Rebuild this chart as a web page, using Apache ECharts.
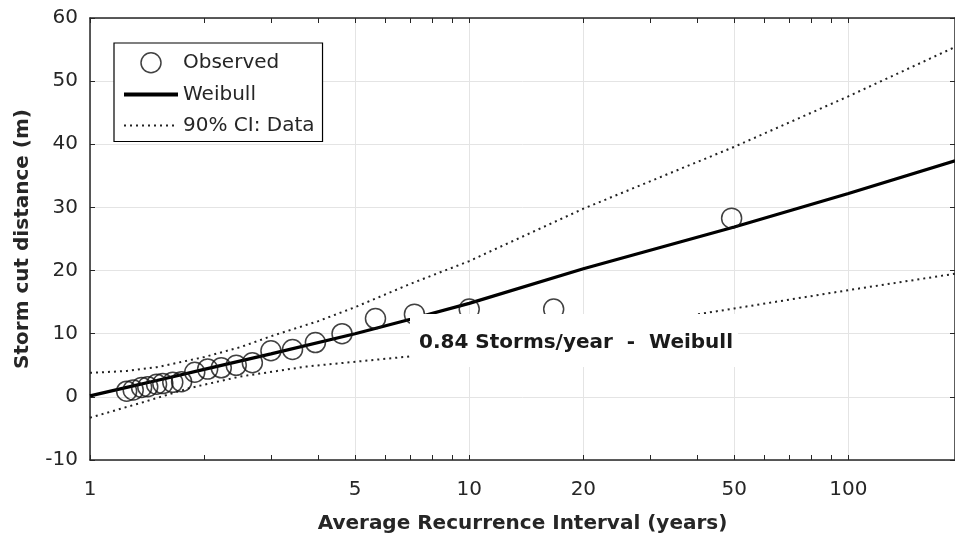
<!DOCTYPE html>
<html>
<head>
<meta charset="utf-8">
<script src="https://cdn.jsdelivr.net/npm/echarts@6/dist/echarts.min.js"></script>
<style>
html,body{margin:0;padding:0;background:#fff;}
#chart{width:955px;height:539px;}
</style>
</head>
<body>
<div id="chart"></div>
<script>
// ---- data ----
const observedT   = [1.249, 1.30, 1.368, 1.42, 1.498, 1.556, 1.653, 1.744, 1.889, 2.043, 2.219, 2.43, 2.68, 3.0, 3.42, 3.93, 4.62, 5.66, 7.17, 10.0, 16.7, 49.2];
const observedCut = [0.9, 1.1, 1.5, 1.6, 2.0, 2.1, 2.3, 2.4, 3.9, 4.4, 4.6, 5.0, 5.4, 7.3, 7.5, 8.6, 10.0, 12.4, 13.1, 13.9, 13.9, 28.3];

const weibullT   = [1, 1.25, 1.5, 2, 3, 5, 7, 10, 20, 50, 100, 191];
const weibullCut = [0.15, 1.5, 2.6, 4.35, 6.8, 10.0, 12.3, 14.8, 20.3, 26.9, 32.2, 37.4];

const ciUpperT   = [1, 1.25, 1.5, 2, 2.5, 3, 4, 5, 7, 10, 20, 50, 100, 191];
const ciUpperCut = [3.8, 4.1, 4.7, 6.3, 7.9, 9.6, 12.0, 14.2, 17.9, 21.5, 29.8, 39.6, 47.6, 55.4];

const ciLowerT   = [1, 1.354, 1.833, 2.48, 3.72, 6.83, 10, 20, 37.5, 50, 100, 191];
const ciLowerCut = [-3.3, -1.0, 1.4, 3.2, 4.8, 6.35, 7.6, 10.2, 12.8, 14.0, 16.9, 19.5];

const xTickLabels = [1, 5, 10, 20, 50, 100];
const xTickMarks  = [1, 2, 3, 4, 5, 6, 7, 8, 9, 10, 20, 30, 40, 50, 60, 70, 80, 90, 100];
const xGridValues = [1, 5, 10, 20, 50, 100];
const X_MIN = 1, X_MAX = 191;
const Y_MIN = -10, Y_MAX = 60, Y_STEP = 10;

const annotationText = '0.84 Storms/year  -  Weibull';
const xName = 'Average Recurrence Interval (years)';
const yName = 'Storm cut distance (m)';

// ---- chart ----
const pairs = (xs, ys) => xs.map((x, i) => [x, ys[i]]);
const FONT = 'DejaVu Sans';
const INK = '#262626';

const chart = echarts.init(document.getElementById('chart'), null, {renderer: 'canvas'});

const xBase = {type: 'log', logBase: 10, min: X_MIN, max: X_MAX, gridIndex: 0};
const yBase = {type: 'value', min: Y_MIN, max: Y_MAX, interval: Y_STEP, gridIndex: 0};

const option = {
  backgroundColor: '#fff',
  animation: false,
  title: [{
    text: annotationText,
    left: 410, top: 314,
    backgroundColor: '#fff',
    padding: [17, 5, 12, 9],
    textStyle: {fontFamily: FONT, fontSize: 20, fontWeight: 'bold', color: '#1a1a1a', lineHeight: 24}
  }],
  grid: {left: 90, right: -2, top: 18, bottom: 77, containLabel: false},
  legend: {
    orient: 'vertical',
    left: 114, top: 43,
    padding: [9, 8, 6, 8],
    itemGap: 11,
    itemWidth: 54, itemHeight: 20,
    backgroundColor: '#fff',
    borderColor: '#000', borderWidth: 1.2,
    textStyle: {fontFamily: FONT, fontSize: 20, color: INK},
    data: [
      {name: 'Observed', icon: 'circle', itemStyle: {color: 'rgba(0,0,0,0)', borderColor: '#111', borderWidth: 1.5}},
      {name: 'Weibull', itemStyle: {opacity: 0}, lineStyle: {width: 4}},
      {name: '90% CI: Data', itemStyle: {opacity: 0}}
    ]
  },
  xAxis: [
    Object.assign({}, xBase, {
      position: 'bottom',
      axisLine: {show: true, onZero: false, lineStyle: {color: INK, width: 1.5}},
      axisTick: {show: true, inside: true, length: 5, customValues: xTickMarks, lineStyle: {color: INK}},
      axisLabel: {customValues: xTickLabels, margin: 20, color: INK, fontFamily: FONT, fontSize: 20,
                  formatter: v => String(Math.round(v))},
      splitLine: {show: false},
      name: xName, nameLocation: 'middle', nameGap: 54,
      nameTextStyle: {fontFamily: FONT, fontSize: 20, fontWeight: 'bold', color: INK}
    }),
    Object.assign({}, xBase, {
      position: 'top',
      axisLine: {show: true, onZero: false, lineStyle: {color: INK, width: 1.5}},
      axisTick: {show: true, inside: true, length: 5, customValues: xTickMarks, lineStyle: {color: INK}},
      axisLabel: {show: false},
      splitLine: {show: false}
    }),
    Object.assign({}, xBase, {
      position: 'bottom',
      axisLine: {show: false, onZero: false},
      axisTick: {show: false, customValues: xGridValues},
      axisLabel: {show: false, customValues: xGridValues},
      splitLine: {show: true, lineStyle: {color: '#e4e4e4', width: 1}}
    })
  ],
  yAxis: [
    Object.assign({}, yBase, {
      position: 'left',
      axisLine: {show: true, onZero: false, lineStyle: {color: INK, width: 1.5}},
      axisTick: {show: true, inside: true, length: 5, lineStyle: {color: INK}},
      axisLabel: {margin: 12, color: INK, fontFamily: FONT, fontSize: 20},
      splitLine: {show: true, lineStyle: {color: '#e4e4e4', width: 1}},
      name: yName, nameLocation: 'middle', nameGap: 57,
      nameTextStyle: {fontFamily: FONT, fontSize: 20, fontWeight: 'bold', color: INK}
    }),
    Object.assign({}, yBase, {
      position: 'right',
      axisLine: {show: true, onZero: false, lineStyle: {color: INK, width: 1.5}},
      axisTick: {show: true, inside: true, length: 5, lineStyle: {color: INK}},
      axisLabel: {show: false},
      splitLine: {show: false}
    })
  ],
  series: [
    {
      name: '90% CI: Data', type: 'line', xAxisIndex: 0, yAxisIndex: 0,
      data: pairs(ciUpperT, ciUpperCut), symbol: 'none', silent: true,
      itemStyle: {color: '#222', opacity: 0},
      lineStyle: {color: '#222', width: 2, type: [2, 4]}, z: 2
    },
    {
      name: '90% CI: Data', type: 'line', xAxisIndex: 0, yAxisIndex: 0,
      data: pairs(ciLowerT, ciLowerCut), symbol: 'none', silent: true,
      itemStyle: {color: '#222', opacity: 0},
      lineStyle: {color: '#222', width: 2, type: [2, 4]}, z: 2
    },
    {
      name: 'Weibull', type: 'line', xAxisIndex: 0, yAxisIndex: 0,
      data: pairs(weibullT, weibullCut), symbol: 'none', silent: true,
      itemStyle: {color: '#000', opacity: 0},
      lineStyle: {color: '#000', width: 3.2}, z: 3
    },
    {
      name: 'Observed', type: 'scatter', xAxisIndex: 0, yAxisIndex: 0,
      data: pairs(observedT, observedCut), symbol: 'circle', symbolSize: 20,
      itemStyle: {color: 'rgba(0,0,0,0)', borderColor: '#111', borderWidth: 1.5}, z: 4
    }
  ]
};
chart.setOption(option);
</script>
</body>
</html>
